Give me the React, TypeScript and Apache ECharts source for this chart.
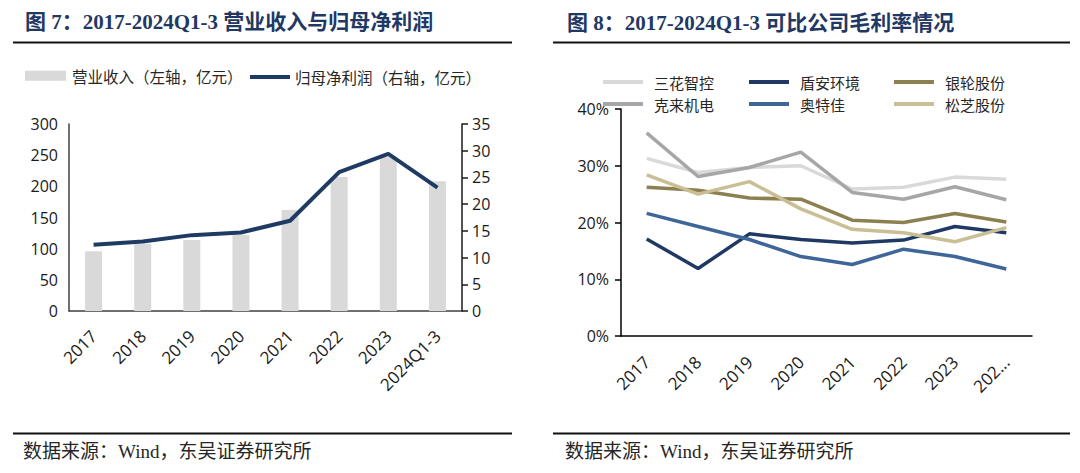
import React, { useEffect, useRef } from "react";
import * as echarts from "echarts";

const categories = ["2017", "2018", "2019", "2020", "2021", "2022", "2023", "2024Q1-3"];
const revenue = [96, 108, 114, 122, 162, 215, 247, 208];
const netProfit = [12.4, 13.0, 14.2, 14.7, 16.9, 26.0, 29.4, 23.1];

const leftTicks = { min: 0, max: 300, interval: 50 };
const rightTicks = { min: 0, max: 35, interval: 5 };
const marginTicks = { min: 0, max: 40, interval: 10 };

const sanhua = [31.3, 28.8, 29.7, 30.0, 25.9, 26.2, 28.0, 27.6];
const dunan = [17.1, 11.9, 18.0, 17.0, 16.4, 16.9, 19.3, 18.2];
const yinlun = [26.2, 25.7, 24.3, 24.1, 20.4, 20.0, 21.6, 20.1];
const kelai = [35.8, 28.1, 29.7, 32.4, 25.3, 24.1, 26.3, 24.0];
const aotejia = [21.6, 19.3, 17.0, 14.0, 12.6, 15.3, 14.0, 11.8];
const songzhi = [28.4, 25.0, 27.2, 22.4, 18.8, 18.2, 16.6, 19.1];

const companies = [
  { name: "三花智控", data: sanhua, color: "#d9d9d9" },
  { name: "盾安环境", data: dunan, color: "#1f3864" },
  { name: "银轮股份", data: yinlun, color: "#8c7f50" },
  { name: "克来机电", data: kelai, color: "#a6a6a6" },
  { name: "奥特佳", data: aotejia, color: "#3e6699" },
  { name: "松芝股份", data: songzhi, color: "#c9be94" },
];

const SANS = "'Open Sans', 'Noto Sans CJK SC', sans-serif";
const CJK = "'Noto Sans CJK SC', sans-serif";
const SERIF = "'Liberation Serif', 'Noto Sans CJK SC', serif";

export default function App() {
  const ref = useRef<HTMLDivElement>(null);
  useEffect(() => {
    if (!ref.current) return;
    const chart = echarts.init(ref.current, undefined, { renderer: "svg" });
    const legendPos = [
      [603, 73],
      [749, 73],
      [894, 73],
      [603, 95],
      [749, 95],
      [894, 95],
    ];
    const option: any = {
      animation: false,
      backgroundColor: "#ffffff",
      grid: [
        { left: 69, right: 618, top: 124, bottom: 162, containLabel: false },
        { left: 621, right: 48, top: 109, bottom: 137, containLabel: false },
      ],
      legend: [
        {
          left: 25,
          top: 68,
          padding: 0,
          itemWidth: 41,
          itemHeight: 10,
          textStyle: { fontFamily: CJK, fontSize: 15.5, color: "#262626", padding: [0, 0, 0, 1] },
          data: [{ name: "营业收入（左轴，亿元）", icon: "rect" }],
        },
        {
          left: 250,
          top: 68,
          padding: 0,
          itemWidth: 40,
          itemHeight: 4,
          textStyle: {
            fontFamily: CJK,
            fontSize: 15.5,
            color: "#262626",
            lineHeight: 18,
          },
          data: [{ name: "归母净利润（右轴，亿元）", icon: "rect" }],
        },
        ...companies.map((c, i) => ({
          left: legendPos[i][0],
          top: legendPos[i][1],
          padding: 0,
          itemWidth: 40,
          itemHeight: 4,
          textStyle: {
            fontFamily: CJK,
            fontSize: 15,
            lineHeight: 18,
            color: "#262626",
            padding: [0, 0, 0, 6],
          },
          data: [{ name: c.name, icon: "rect" }],
        })),
      ],
      xAxis: [
        {
          type: "category",
          gridIndex: 0,
          data: categories,
          boundaryGap: true,
          axisLine: { lineStyle: { color: "#404040", width: 1.5 } },
          axisTick: { show: false },
          axisLabel: {
            rotate: 45,
            margin: 22,
            fontFamily: SANS,
            fontSize: 17,
            color: "#1a1a1a",
            interval: 0,
          },
        },
        {
          type: "category",
          gridIndex: 1,
          data: categories,
          boundaryGap: true,
          axisLine: { lineStyle: { color: "#000000", width: 1.5 } },
          axisTick: { show: false },
          axisLabel: {
            rotate: 45,
            margin: 23,
            fontFamily: SANS,
            fontSize: 17,
            color: "#1a1a1a",
            interval: 0,
            formatter: (v: string) => (v.length > 4 ? v.slice(0, 3) + "..." : v),
          },
        },
      ],
      yAxis: [
        {
          type: "value",
          gridIndex: 0,
          position: "left",
          ...leftTicks,
          splitLine: { show: false },
          axisLine: { show: true, lineStyle: { color: "#404040", width: 1.5 } },
          axisTick: { show: false },
          axisLabel: { margin: 11, fontFamily: SANS, fontSize: 16, color: "#1a1a1a" },
        },
        {
          type: "value",
          gridIndex: 0,
          position: "right",
          ...rightTicks,
          splitLine: { show: false },
          axisLine: { show: true, lineStyle: { color: "#1a1a1a", width: 1.5 } },
          axisTick: { show: true, length: 6, lineStyle: { color: "#1a1a1a", width: 1.5 } },
          axisLabel: { margin: 10, fontFamily: SANS, fontSize: 16, color: "#1a1a1a" },
        },
        {
          type: "value",
          gridIndex: 1,
          position: "left",
          ...marginTicks,
          splitLine: { show: false },
          axisLine: { show: true, lineStyle: { color: "#000000", width: 1.5 } },
          axisTick: { show: true, length: 6, lineStyle: { color: "#000000", width: 1.5 } },
          axisLabel: {
            margin: 12,
            fontFamily: SANS,
            fontSize: 16,
            color: "#1a1a1a",
            formatter: "{value}%",
          },
        },
      ],
      series: [
        {
          name: "营业收入（左轴，亿元）",
          type: "bar",
          xAxisIndex: 0,
          yAxisIndex: 0,
          data: revenue,
          barWidth: 17,
          itemStyle: { color: "#d9d9d9" },
        },
        {
          name: "归母净利润（右轴，亿元）",
          type: "line",
          xAxisIndex: 0,
          yAxisIndex: 1,
          data: netProfit,
          symbol: "none",
          lineStyle: { color: "#1f3b63", width: 4 },
          itemStyle: { color: "#1f3b63" },
        },
        ...companies.map((c) => ({
          name: c.name,
          type: "line",
          xAxisIndex: 1,
          yAxisIndex: 2,
          data: c.data,
          symbol: "none",
          lineStyle: { color: c.color, width: 3.5 },
          itemStyle: { color: c.color },
        })),
      ],
      graphic: [
        {
          type: "text",
          left: 25,
          top: 11,
          style: {
            text: "图 7：2017-2024Q1-3 营业收入与归母净利润",
            fontFamily: SERIF,
            fontWeight: "bold",
            fontSize: 21,
            fill: "#1f3864",
          },
        },
        {
          type: "text",
          left: 567,
          top: 12,
          style: {
            text: "图 8：2017-2024Q1-3 可比公司毛利率情况",
            fontFamily: SERIF,
            fontWeight: "bold",
            fontSize: 21,
            fill: "#1f3864",
          },
        },
        { type: "line", shape: { x1: 13, y1: 42.5, x2: 512, y2: 42.5 }, style: { stroke: "#111", lineWidth: 2 } },
        { type: "line", shape: { x1: 553, y1: 42.5, x2: 1070, y2: 42.5 }, style: { stroke: "#111", lineWidth: 2 } },
        { type: "line", shape: { x1: 13, y1: 433.5, x2: 512, y2: 433.5 }, style: { stroke: "#111", lineWidth: 2 } },
        { type: "line", shape: { x1: 553, y1: 433.5, x2: 1070, y2: 433.5 }, style: { stroke: "#111", lineWidth: 2 } },
        {
          type: "text",
          left: 23,
          top: 442,
          style: {
            text: "数据来源：Wind，东吴证券研究所",
            fontFamily: SERIF,
            fontSize: 19,
            fill: "#262626",
          },
        },
        {
          type: "text",
          left: 565,
          top: 442,
          style: {
            text: "数据来源：Wind，东吴证券研究所",
            fontFamily: SERIF,
            fontSize: 19,
            fill: "#262626",
          },
        },
      ],
    };
    chart.setOption(option);
    return () => chart.dispose();
  }, []);
  return (
    <div
      ref={ref}
      style={{ position: "fixed", left: 0, top: 0, width: 1080, height: 473, background: "#fff" }}
    />
  );
}
